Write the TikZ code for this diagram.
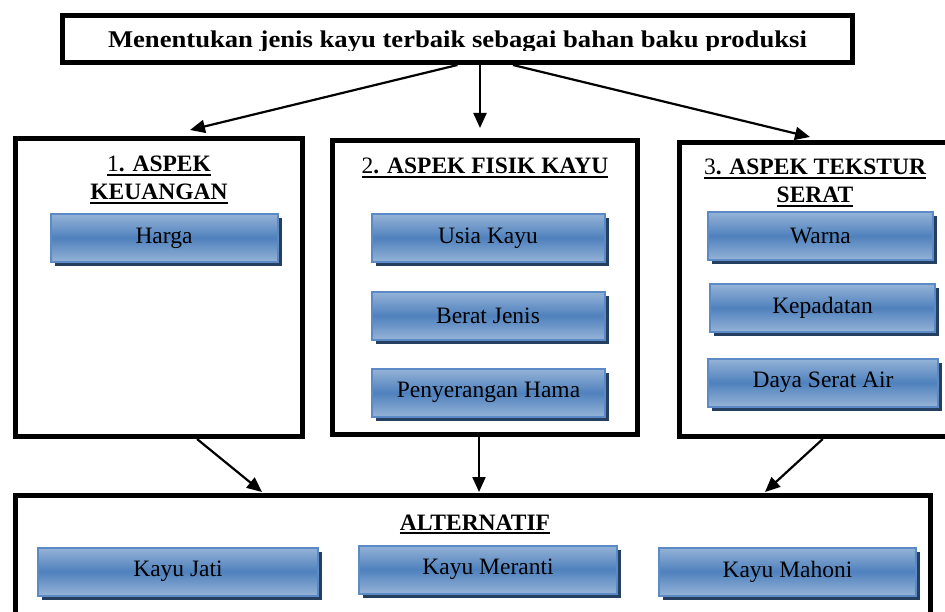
\documentclass[tikz,border=0pt]{standalone}
\usepackage{graphicx}
\usepackage{fontspec}
\setmainfont{Liberation Serif}
\usetikzlibrary{arrows.meta,shadows}

\definecolor{critlight}{HTML}{95B3D7}
\definecolor{critdark}{HTML}{4F81BD}
\definecolor{critedge}{HTML}{5B8AC6}
\definecolor{critshadow}{HTML}{243F60}

\newcommand\headul[1]{\vtop{\hbox{#1}\kern2pt\hrule height 2.2pt}}

\tikzset{
  frame/.style={draw, line width=5pt, inner sep=0pt},
  crit/.style={draw=critedge, line width=2pt, top color=critlight, bottom color=critlight,
    middle color=critdark, minimum height=48pt, inner sep=0pt,
    font=\fontsize{23.5}{27}\selectfont,
    drop shadow={shadow xshift=4pt, shadow yshift=-4pt, fill=critshadow, opacity=1}},
  heading/.style={font=\fontsize{23.5}{27.7}\selectfont\bfseries, align=center, inner sep=0pt},
  arr/.style={line width=2.2pt, -{Triangle[length=15pt,width=13pt]}}
}

\begin{document}
\begin{tikzpicture}[x=1pt,y=-1pt]
  \useasboundingbox (0,0) rectangle (945,612);
  \clip (0,0) rectangle (945,612);
  % goal
  \node[frame, minimum width=790pt, minimum height=47pt] (goal) at (457.5,39) {};
  \begin{scope}
    \clip (62,17) rectangle (853,50.5);
    \node[heading, font=\fontsize{24}{28}\selectfont\bfseries, anchor=base] (goaltext) at (457.5,48)
      {\resizebox{699pt}{\height}{Menentukan jenis kayu terbaik sebagai bahan baku produksi}};
  \end{scope}
  % criteria
  \node[frame, minimum width=287.5pt, minimum height=298pt] (keu) at (159,287.5) {};
  \node[frame, minimum width=305pt, minimum height=294pt] (fis) at (485,287.5) {};
  \node[frame, minimum width=270.5pt, minimum height=294pt] (tek) at (814.75,289.5) {};
  \node[heading, anchor=north] (keuhead) at (159,156) {\headul{{\mdseries 1}. ASPEK}\\\headul{KEUANGAN}};
  \node[heading, anchor=north] (fishead) at (485,158) {\headul{{\mdseries 2}. ASPEK FISIK KAYU}};
  \node[heading, anchor=north] (tekhead) at (815,159) {\headul{{\mdseries 3}. ASPEK TEKSTUR}\\\headul{SERAT}};
  \node[crit, minimum width=227pt] (harga) at (164,238) {Harga};
  \node[crit, minimum width=233pt] (usia) at (488,238) {Usia Kayu};
  \node[crit, minimum width=233pt] (berat) at (488,315.7) {Berat Jenis};
  \node[crit, minimum width=233pt] (hama) at (488.5,392.8) {Penyerangan Hama};
  \node[crit, minimum width=225pt] (warna) at (820.5,236) {Warna};
  \node[crit, minimum width=225pt] (padat) at (822.5,308) {Kepadatan};
  \node[crit, minimum width=230pt] (serap) at (823,382.5) {Daya Serat Air};
  % alternatives
  \node[frame, minimum width=915pt, minimum height=129.5pt] (alt) at (473,560.25) {};
  \node[heading, anchor=base] (althead) at (475,530) {\headul{ALTERNATIF}};
  \node[crit, minimum width=280pt] (jati) at (178,571.5) {Kayu Jati};
  \node[crit, minimum width=258pt] (meranti) at (488,569.5) {Kayu Meranti};
  \node[crit, minimum width=257pt] (mahoni) at (787.5,571.5) {Kayu Mahoni};
  % arrows
  \draw[arr] (goal.south) -- ([xshift=31pt,yshift=6pt]keu.north);
  \draw[arr] ([xshift=22.5pt]goal.south) -- ([xshift=-5pt,yshift=10pt]fis.north);
  \draw[arr] ([xshift=55.5pt]goal.south) -- ([xshift=-4.75pt,yshift=3pt]tek.north);
  \draw[arr] ([xshift=38pt]keu.south) -- ([xshift=-211pt,yshift=1pt]alt.north);
  \draw[arr] ([xshift=-6pt]fis.south) -- ([xshift=6pt,yshift=1pt]alt.north);
  \draw[arr] ([xshift=8pt]tek.south) -- ([xshift=292pt,yshift=1pt]alt.north);
\end{tikzpicture}
\end{document}
